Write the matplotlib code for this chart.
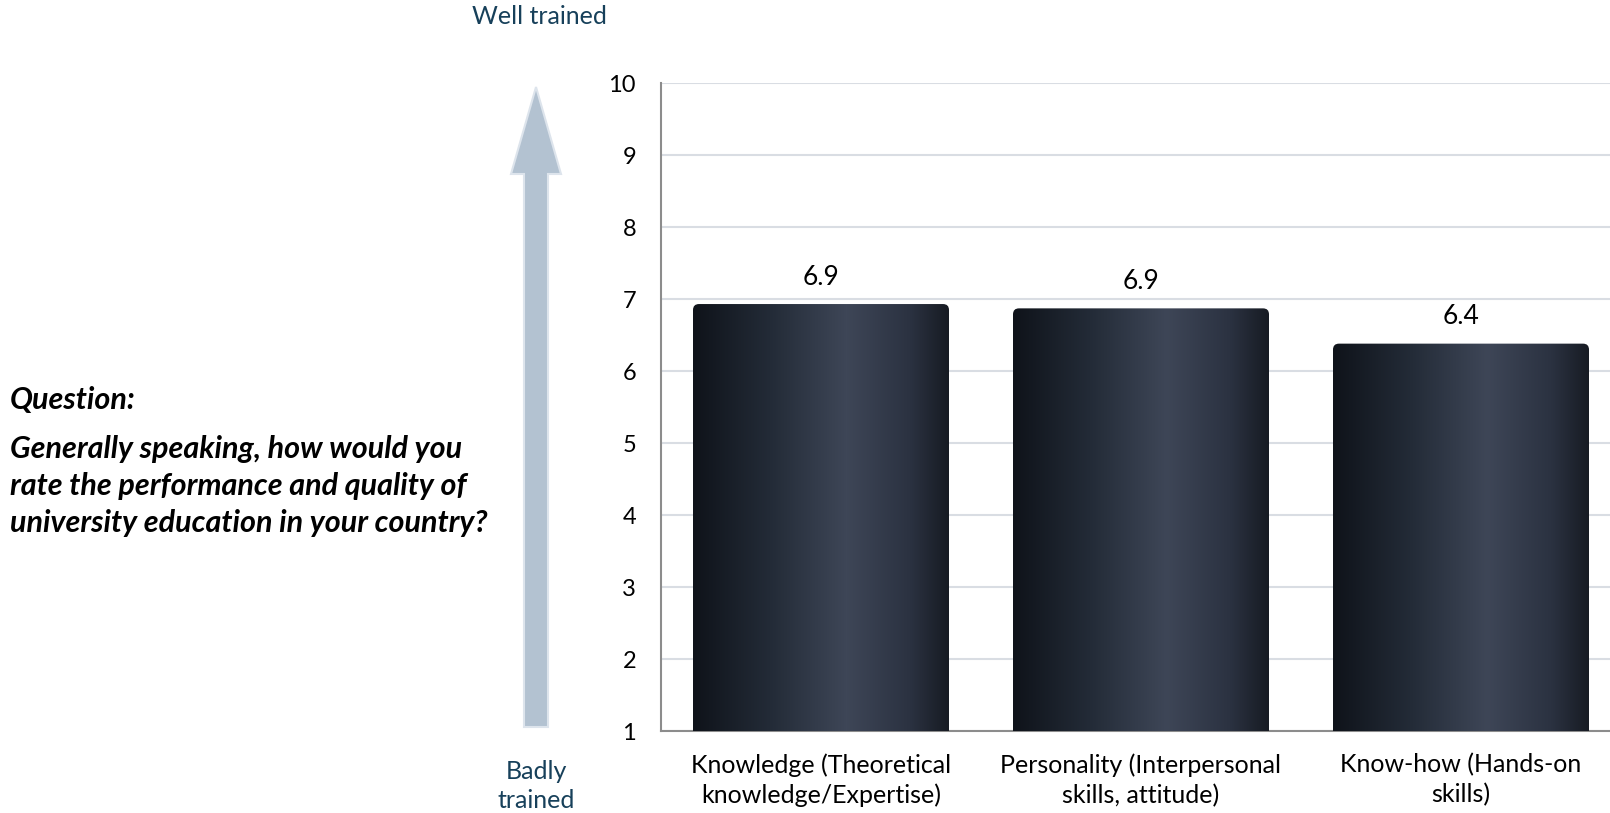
import numpy as np
import matplotlib
matplotlib.use('Agg')
import matplotlib.pyplot as plt
from matplotlib.patches import Polygon, FancyBboxPatch
from matplotlib.colors import LinearSegmentedColormap

plt.rcParams['font.family'] = ['Lato', 'DejaVu Sans']

categories = ['Knowledge (Theoretical\nknowledge/Expertise)',
              'Personality (Interpersonal\nskills, attitude)',
              'Know-how (Hands-on\nskills)']
values = [6.93, 6.87, 6.38]
value_labels = ['6.9', '6.9', '6.4']
y_ticks = list(range(1, 11))

W, H = 1610, 813
fig = plt.figure(figsize=(W / 100, H / 100), dpi=100)

# decoration layer in pixel coordinates
deco = fig.add_axes([0, 0, 1, 1], zorder=0)
deco.set_xlim(0, W)
deco.set_ylim(H, 0)
deco.axis('off')

# vertical arrow
cx, tip, neck, base = 536, 87, 174, 727
hw, sw = 25, 12
arrow = Polygon([(cx, tip), (cx + hw, neck), (cx + sw, neck), (cx + sw, base),
                 (cx - sw, base), (cx - sw, neck), (cx - hw, neck)],
                closed=True, facecolor='#b3c2d1', edgecolor='#dde4ec', lw=1.5)
deco.add_patch(arrow)
deco.text(539, 17, 'Well trained', color='#17405a', fontsize=18, ha='center', va='center')
deco.text(536, 786, 'Badly\ntrained', color='#17405a', fontsize=18, ha='center', va='center',
          linespacing=1.3)

deco.text(10, 400, 'Question:', fontsize=22, weight='bold', style='italic', va='center')
deco.text(10, 486, 'Generally speaking, how would you\nrate the performance and quality of\n'
          'university education in your country?', fontsize=22, weight='bold',
          style='italic', va='center', linespacing=1.38)

# main chart
ax = fig.add_axes([661 / W, 1 - 731 / H, (1621 - 661) / W, (731 - 83) / H], zorder=1)
ax.patch.set_alpha(0)
ax.set_xlim(-0.5, 2.5)
ax.set_ylim(1, 10)
x = np.arange(len(categories))
bars = ax.bar(x, [v - 1 for v in values], bottom=1, width=0.8, color='none', zorder=2)

cmap = LinearSegmentedColormap.from_list('bar', [(0, '#0f131a'), (0.3, '#232b37'),
                                                 (0.6, '#3e4657'), (0.85, '#2b3241'),
                                                 (1.0, '#171b23')])
grad = np.linspace(0, 1, 256).reshape(1, -1)
to_px = ax.transData + deco.transData.inverted()
for b, lab in zip(bars, value_labels):
    x0, y0, bw, bh = b.get_x(), b.get_y(), b.get_width(), b.get_height()
    im = ax.imshow(grad, cmap=cmap, aspect='auto', extent=[x0, x0 + bw, y0, y0 + bh],
                   zorder=3)
    # rounded top corners: clip with a rounded box that runs below the axis
    (px0, py_top), (px1, py_bot) = to_px.transform([(x0, y0 + bh), (x0 + bw, y0)])
    clip = FancyBboxPatch((px0, py_top), px1 - px0, py_bot - py_top + 20,
                          boxstyle='round,pad=0,rounding_size=6',
                          transform=deco.transData, facecolor='none', edgecolor='none')
    im.set_clip_path(clip)
    ax.text(x0 + bw / 2, y0 + bh + 0.2, lab, ha='center', va='bottom', fontsize=19)

ax.set_yticks(y_ticks)
ax.set_xticks(x)
ax.set_xticklabels(categories, fontsize=18, linespacing=1.35)
ax.tick_params(axis='y', length=0, labelsize=17, pad=18)
ax.tick_params(axis='x', length=0, pad=16)
ax.grid(axis='y', color='#d9dde3', lw=1.5, zorder=0)
ax.set_axisbelow(True)
for s in ['top', 'right']:
    ax.spines[s].set_visible(False)
for s in ['left', 'bottom']:
    ax.spines[s].set_color('#8c8c8c')
    ax.spines[s].set_linewidth(1.5)

fig.savefig('out.png', dpi=100)
